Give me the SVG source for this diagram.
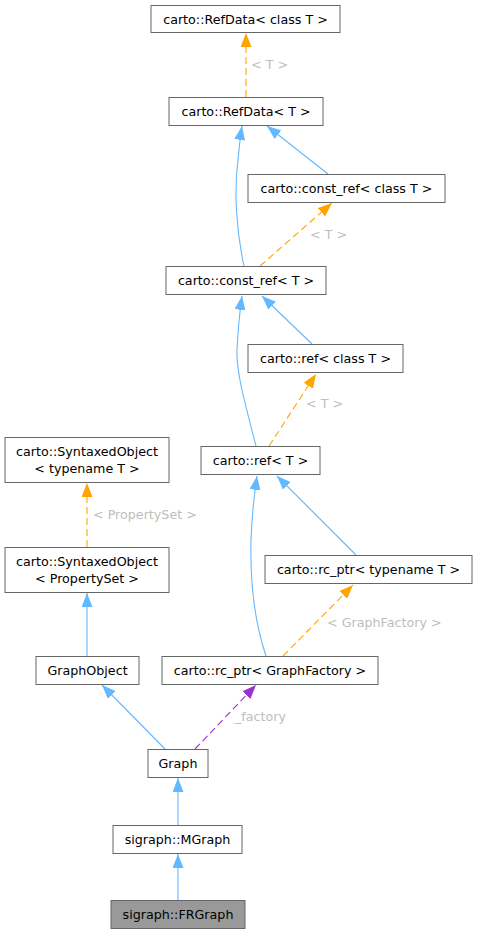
<svg xmlns="http://www.w3.org/2000/svg" width="478" height="934" viewBox="0 0 478 934">
<style>
.n rect{fill:#ffffff;stroke:#666666;stroke-width:1}
.n text{font-family:"DejaVu Sans",sans-serif;font-size:12.7px;fill:#000000;text-anchor:middle}
.e path{fill:none;stroke-width:1.1}
.b{stroke:#63b8ff}
.o{stroke:#ffa500;stroke-dasharray:7,4}
.p{stroke:#9a32cd;stroke-dasharray:7,4}
.lbl{font-family:"DejaVu Sans",sans-serif;font-size:12.7px;fill:#bebebe}
</style>
<defs>
<marker id="ab" markerUnits="userSpaceOnUse" markerWidth="14" markerHeight="11" refX="14" refY="5.5" orient="auto" viewBox="0 0 14 11"><path d="M0,0 L14,5.5 L0,11 z" fill="#63b8ff"/></marker>
<marker id="ao" markerUnits="userSpaceOnUse" markerWidth="14" markerHeight="11" refX="14" refY="5.5" orient="auto" viewBox="0 0 14 11"><path d="M0,0 L14,5.5 L0,11 z" fill="#ffa500"/></marker>
<marker id="ap" markerUnits="userSpaceOnUse" markerWidth="14" markerHeight="11" refX="14" refY="5.5" orient="auto" viewBox="0 0 14 11"><path d="M0,0 L14,5.5 L0,11 z" fill="#9a32cd"/></marker>
</defs>
<g id="edges" class="e">
<path class="o" d="M246,97 L246,33" marker-end="url(#ao)"/>
<path class="b" d="M328,174 L267,126" marker-end="url(#ab)"/>
<path class="b" d="M244,266 C236,230 234,190 238,160 C239,150 240,138 242,126" marker-end="url(#ab)"/>
<path class="o" d="M260,266 L332,203" marker-end="url(#ao)"/>
<path class="b" d="M312,344 L262,296" marker-end="url(#ab)"/>
<path class="b" d="M256,446 C244,400 236,370 237,350 C238,330 240,310 242,296" marker-end="url(#ab)"/>
<path class="o" d="M269,446 L316,374" marker-end="url(#ao)"/>
<path class="o" d="M87,547 L87,483" marker-end="url(#ao)"/>
<path class="b" d="M87,656 L87,593" marker-end="url(#ab)"/>
<path class="b" d="M356,555 L277,476" marker-end="url(#ab)"/>
<path class="b" d="M266,656 C254,620 250,580 251,540 C252,510 255,490 257,476" marker-end="url(#ab)"/>
<path class="o" d="M283,656 L353,585" marker-end="url(#ao)"/>
<path class="p" d="M195,749 L256,685" marker-end="url(#ap)"/>
<path class="b" d="M165,749 L102,685" marker-end="url(#ab)"/>
<path class="b" d="M178,825 L178,778" marker-end="url(#ab)"/>
<path class="b" d="M178,900 L178,854" marker-end="url(#ab)"/>
<text class="lbl" x="251" y="69">&lt; T &gt;</text>
<text class="lbl" x="310" y="239">&lt; T &gt;</text>
<text class="lbl" x="306" y="408">&lt; T &gt;</text>
<text class="lbl" x="93" y="519">&lt; PropertySet &gt;</text>
<text class="lbl" x="327" y="627">&lt; GraphFactory &gt;</text>
<text class="lbl" x="235" y="721">_factory</text>
</g>
<g id="refdata_class" class="n"><rect x="151" y="5.5" width="189" height="27"/><text x="245.5" y="23.5">carto::RefData&lt; class T &gt;</text></g>
<g id="refdata_t" class="n"><rect x="169" y="97.5" width="154" height="28"/><text x="246" y="116">carto::RefData&lt; T &gt;</text></g>
<g id="constref_class" class="n"><rect x="248" y="174.5" width="197" height="28"/><text x="346.5" y="193">carto::const_ref&lt; class T &gt;</text></g>
<g id="constref_t" class="n"><rect x="166" y="266.5" width="160" height="28"/><text x="246" y="285">carto::const_ref&lt; T &gt;</text></g>
<g id="ref_class" class="n"><rect x="248" y="344.5" width="155" height="28"/><text x="325.5" y="363">carto::ref&lt; class T &gt;</text></g>
<g id="ref_t" class="n"><rect x="201" y="446.5" width="119" height="28"/><text x="260.5" y="465">carto::ref&lt; T &gt;</text></g>
<g id="syntaxed_typename" class="n"><rect x="5" y="437.5" width="164" height="45"/><text x="87" y="456">carto::SyntaxedObject</text><text x="87" y="472.5">&lt; typename T &gt;</text></g>
<g id="syntaxed_propertyset" class="n"><rect x="5" y="547.5" width="164" height="45"/><text x="87" y="566">carto::SyntaxedObject</text><text x="87" y="582.5">&lt; PropertySet &gt;</text></g>
<g id="rcptr_typename" class="n"><rect x="265" y="555.5" width="207" height="28"/><text x="368.5" y="574">carto::rc_ptr&lt; typename T &gt;</text></g>
<g id="graphobject" class="n"><rect x="36" y="656.5" width="103" height="28"/><text x="87.5" y="675">GraphObject</text></g>
<g id="rcptr_graphfactory" class="n"><rect x="162" y="656.5" width="216" height="28"/><text x="270" y="675">carto::rc_ptr&lt; GraphFactory &gt;</text></g>
<g id="graph" class="n"><rect x="148" y="749.5" width="60" height="28"/><text x="178" y="768">Graph</text></g>
<g id="mgraph" class="n"><rect x="113" y="825.5" width="129" height="28"/><text x="177.5" y="844">sigraph::MGraph</text></g>
<g id="frgraph" class="n"><rect x="111" y="900.5" width="134" height="28" style="fill:#999999"/><text x="178" y="919">sigraph::FRGraph</text></g>
</svg>
